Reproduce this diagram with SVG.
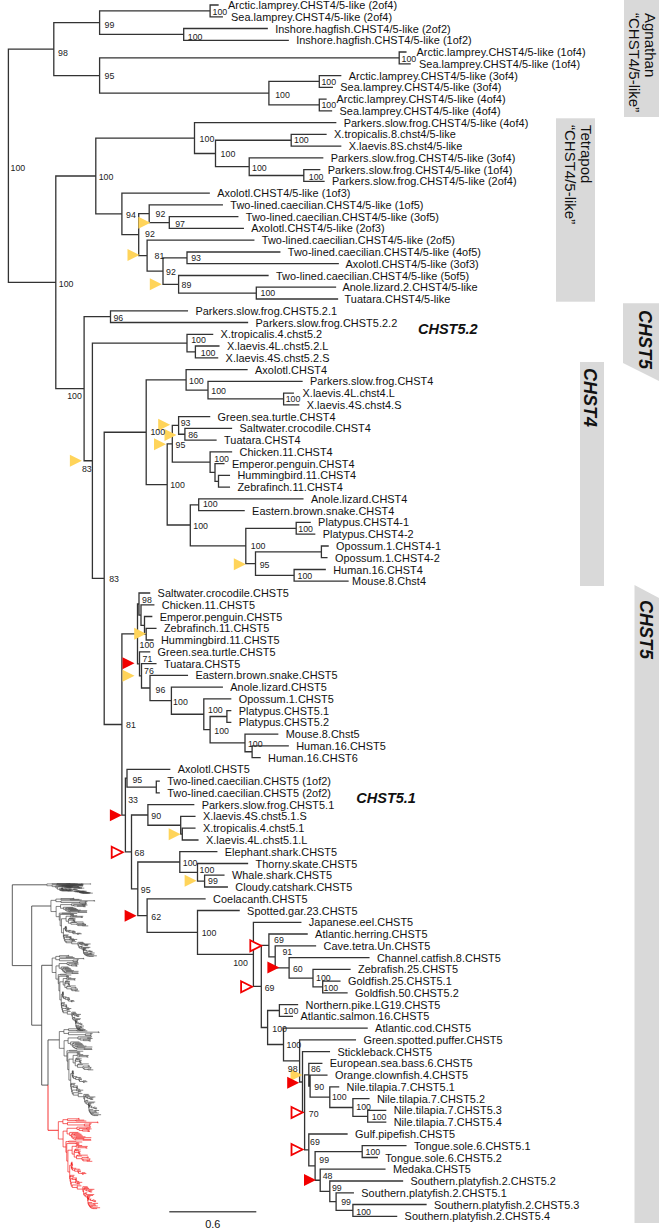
<svg xmlns="http://www.w3.org/2000/svg" xmlns:xlink="http://www.w3.org/1999/xlink" width="659" height="1229" viewBox="0 0 659 1229">
<style>
.tx{font-family:"Liberation Sans",Arial,sans-serif;font-size:10.9px;letter-spacing:0.05px;fill:#111}
.bs{font-family:"Liberation Sans",Arial,sans-serif;font-size:8.8px;fill:#222}
.cl{font-family:"Liberation Sans",Arial,sans-serif;font-size:14.5px;font-weight:bold;font-style:italic;fill:#111}
.bx{fill:#d9d9d9}
.bt{font-family:"Liberation Sans",Arial,sans-serif;font-size:15px;fill:#111}
.bi{font-family:"Liberation Sans",Arial,sans-serif;font-size:18px;font-weight:bold;font-style:italic;fill:#111}
.ty{fill:#FFD45A}
.tr{fill:#F20000}
.th{fill:#fff;stroke:#F20000;stroke-width:1.8}
</style>
<rect width="659" height="1229" fill="#fff"/>
<g id="boxes">
<rect class="bx" x="624" y="0" width="35" height="117"/>
<rect class="bx" x="556" y="118.3" width="39" height="183.4"/>
<polygon class="bx" points="623,303.3 659,303.3 659,381 623,363"/>
<rect class="bx" x="580" y="362" width="24" height="224"/>
<polygon class="bx" points="634.5,585 659,598 659,1223 634.5,1223"/>
<text class="bt" transform="translate(645,13) rotate(90)">Agnathan</text>
<text class="bt" transform="translate(629,13) rotate(90)">“CHST4/5-like”</text>
<text class="bt" transform="translate(581,125) rotate(90)">Tetrapod</text>
<text class="bt" transform="translate(565,125) rotate(90)">“CHST4/5-like”</text>
<text class="bi" transform="translate(639,310) rotate(90)">CHST5</text>
<text class="bi" transform="translate(584,368) rotate(90)">CHST4</text>
<text class="bi" transform="translate(640,600) rotate(90)">CHST5</text>
</g>
<g id="connectors" stroke="#333" stroke-width="1.3" fill="none" stroke-linecap="square">
<path id="branches" vector-effect="non-scaling-stroke" d="M8.4 49.1V282.35M8.4 49.1H53.8M8.4 282.35H55.8
M53.8 22.65V75.55M53.8 22.65H99.6M53.8 75.55H99.6
M99.6 10.9V34.4M99.6 10.9H210.1M99.6 34.4H183.7
M210.1 5V16.8M210.1 5H218M210.1 16.8H222.3
M183.7 28.5V40.3M183.7 28.5H267.2M183.7 40.3H288.2
M99.6 57.9V93.2M99.6 57.9H399.2M99.6 93.2H268.9
M399.2 52V63.8M399.2 52H405.9M399.2 63.8H410.1
M268.9 81.45V104.95M268.9 81.45H319.3M268.9 104.95H319.3
M319.3 75.6V87.3M319.3 75.6H340.7M319.3 87.3H332.3
M319.3 99.1V110.8M319.3 99.1H326M319.3 110.8H331.5
M55.8 176V388.7M55.8 176H95.8M55.8 388.7H84.1
M95.8 138.05V213.95M95.8 138.05H194.5M95.8 213.95H121.9
M194.5 122.6V153.5M194.5 122.6H335.7M194.5 153.5H215.5
M215.5 140.25V166.7M215.5 140.25H291.2M215.5 166.7H249.2
M291.2 134.4V146.1M291.2 134.4H326M291.2 146.1H340.7
M249.2 157.9V175.5M249.2 157.9H322.7M249.2 175.5H303.8
M303.8 169.6V181.4M303.8 169.6H319.7M303.8 181.4H324
M121.9 193.2V234.7M121.9 193.2H209.2M121.9 234.7H138.7
M138.7 213.7V255.65M138.7 213.7H149.2M138.7 255.65H147.1
M149.2 204.9V222.55M149.2 204.9H222.3M149.2 222.55H169.3
M169.3 216.7V228.4M169.3 216.7H237.8M169.3 228.4H243.3
M147.1 240.2V271.1M147.1 240.2H253.8M147.1 271.1H163
M163 257.85V284.3M163 257.85H187M163 284.3H178.6
M187 252V263.7M187 252H279.8M187 263.7H338.2
M178.6 275.5V293.1M178.6 275.5H268M178.6 293.1H256.3
M256.3 287.2V299M256.3 287.2H335.5M256.3 299H337.5
M84.1 316.65V460.75M84.1 316.65H110.5M84.1 460.75H92.4
M110.5 310.8V322.5M110.5 310.8H187.4M110.5 322.5H247.5
M92.4 343.1V578.4M92.4 343.1H187M92.4 578.4H104.2
M187 334.3V351.9M187 334.3H212.6M187 351.9H195.4
M195.4 346V357.8M195.4 346H218.9M195.4 357.8H217.6
M104.2 432.25V724.5M104.2 432.25H146.2M104.2 724.5H121.9
M146.2 379.85V484.65M146.2 379.85H186.1M146.2 484.65H167.2
M186.1 369.6V390.1M186.1 369.6H247M186.1 390.1H208
M208 381.3V398.95M208 381.3H302M208 398.95H283.6
M283.6 393.1V404.8M283.6 393.1H293.3M283.6 404.8H298.7
M167.2 443.8V525M167.2 443.8H172.3M167.2 525H190.3
M172.3 425.4V462.2M172.3 425.4H178.6M172.3 462.2H210.1
M178.6 416.6V434.25M178.6 416.6H209.6M178.6 434.25H184.9
M184.9 428.4V440.1M184.9 428.4H231.5M184.9 440.1H216
M210.1 451.9V472.45M210.1 451.9H231.5M210.1 472.45H215
M215 463.6V481.3M215 463.6H223.9M215 481.3H218.5
M218.5 475.4V487.2M218.5 475.4H229.4M218.5 487.2H229.4
M190.3 504.8V545.95M190.3 504.8H198.7M190.3 545.95H245.8
M198.7 498.9V510.7M198.7 498.9H302.9M198.7 510.7H244.1
M245.8 528.3V563.6M245.8 528.3H296.2M245.8 563.6H255.5
M296.2 522.4V534.2M296.2 522.4H310.1M296.2 534.2H314.7
M255.5 551.85V575.35M255.5 551.85H321.4M255.5 575.35H294.1
M321.4 546V557.7M321.4 546H328.1M321.4 557.7H326.9
M294.1 569.5V581.2M294.1 569.5H325.2M294.1 581.2H348
M121.9 633.9V815.05M121.9 633.9H137.5M121.9 815.05H125.4
M137.5 604V663.8M137.5 604H139M137.5 663.8H139.5
M139 593V615.05M139 593H149.6M139 615.05H141
M141 604.8V625.3M141 604.8H153.8M141 625.3H144.5
M144.5 616.5V634.15M144.5 616.5H151.7M144.5 634.15H146.2
M146.2 628.3V640M146.2 628.3H155.9M146.2 640H152.9
M139.5 651.8V675.8M139.5 651.8H149.6M139.5 675.8H141.5
M141.5 663.6V688M141.5 663.6H155.9M141.5 688H150
M150 675.3V700.7M150 675.3H187.4M150 700.7H171.4
M171.4 687.1V714.25M171.4 687.1H222.3M171.4 714.25H203.8
M203.8 698.8V729.7M203.8 698.8H230.7M203.8 729.7H210.1
M210.1 716.5V742.93M210.1 716.5H226.9M210.1 742.93H245
M226.9 710.6V722.4M226.9 710.6H230.7M226.9 722.4H230.7
M245 734.1V751.75M245 734.1H277.7M245 751.75H252.1
M252.1 745.9V757.6M252.1 745.9H288.2M252.1 757.6H260.1
M125.4 778.2V851.9M125.4 778.2H127M125.4 851.9H131.5
M127 769.4V787.05M127 769.4H169.7M127 787.05H156.3
M156.3 781.2V792.9M156.3 781.2H159.2M156.3 792.9H159.2
M131.5 815V888.8M131.5 815H147.9M131.5 888.8H137.8
M147.9 804.7V825.25M147.9 804.7H193.7M147.9 825.25H180.7
M180.7 816.4V834.1M180.7 816.4H194.9M180.7 834.1H182.3
M182.3 828.2V840M182.3 828.2H194.9M182.3 840H197.9
M137.8 862V915.6M137.8 862H179.8M137.8 915.6H147.1
M179.8 851.7V872.3M179.8 851.7H216.8M179.8 872.3H197.5
M197.5 863.5V881.1M197.5 863.5H247.5M197.5 881.1H204.6
M204.6 875.2V887M204.6 875.2H223.9M204.6 887H227.3
M147.1 898.8V932.45M147.1 898.8H205M147.1 932.45H197.5
M197.5 910.5V954.4M197.5 910.5H239.1M197.5 954.4H253.4
M253.4 922.3V986.45M253.4 922.3H300.8M253.4 986.45H261.3
M261.3 945.4V1027.5M261.3 945.4H268.9M261.3 1027.5H267.6
M268.9 934V956.8M268.9 934H307.1M268.9 956.8H275.2
M275.2 945.8V967.85M275.2 945.8H315.5M275.2 967.85H289.1
M289.1 957.6V978.1M289.1 957.6H368.9M289.1 978.1H313
M313 969.3V986.95M313 969.3H350M313 986.95H322.7
M322.7 981.1V992.8M322.7 981.1H339.9M322.7 992.8H347
M267.6 1010.5V1044.5M267.6 1010.5H279.4M267.6 1044.5H283.5
M279.4 1004.6V1016.4M279.4 1004.6H297.5M279.4 1016.4H292.4
M283.5 1028.1V1060.95M283.5 1028.1H367.1M283.5 1060.95H299.6
M299.6 1039.9V1082M299.6 1039.9H355.4M299.6 1082H302.5
M302.5 1051.6V1112.4M302.5 1051.6H329.4M302.5 1112.4H304.6
M304.6 1074.8V1149.95M304.6 1074.8H308.8M304.6 1149.95H308.8
M308.8 1063.4V1086.2M308.8 1063.4H321.8M308.8 1086.2H310.1
M310.1 1075.2V1097.2M310.1 1075.2H326.9M310.1 1097.2H329.8
M329.8 1086.9V1107.5M329.8 1086.9H338.6M329.8 1107.5H352.9
M352.9 1098.7V1116.3M352.9 1098.7H368.9M352.9 1116.3H367.7
M367.7 1110.4V1122.2M367.7 1110.4H385.7M367.7 1122.2H385.7
M308.8 1134V1165.9M308.8 1134H347M308.8 1165.9H315.1
M315.1 1151.6V1180.25M315.1 1151.6H362.2M315.1 1180.25H320.2
M362.2 1145.7V1157.5M362.2 1145.7H405.9M362.2 1157.5H377.3
M320.2 1169.2V1191.3M320.2 1169.2H384.9M320.2 1191.3H329.8
M329.8 1181V1201.6M329.8 1181H402.5M329.8 1201.6H336.1
M336.1 1192.8V1210.4M336.1 1192.8H353.3M336.1 1210.4H352.9
M352.9 1204.5V1216.3M352.9 1204.5H426M352.9 1216.3H396.6"/>
</g>
<g id="thumbnail" fill="none">
<path d="M12.3 884.8V965.6M12.3 884.8H46.9M12.3 965.6H31.7M31.7 906V1025.2M31.7 906H50.9M31.7 1025.2H41.7M41.7 965.3V1085.1M41.7 965.3H52.2M41.7 1085.1H48M48 1039.9V1085.1M48 1039.9H59.3" stroke="#333" stroke-width="0.8"/>
<path d="M48 1085.1V1130.3H58.3" stroke="#F20000" stroke-width="0.8"/>
<use xlink:href="#branches" href="#branches" transform="translate(46,883.5) scale(0.11,0.008)" stroke="#444" stroke-width="0.6"/>
<use xlink:href="#branches" href="#branches" transform="translate(50,898) scale(0.11,0.048)" stroke="#333" stroke-width="0.6"/>
<use xlink:href="#branches" href="#branches" transform="translate(51.5,955) scale(0.08,0.062)" stroke="#333" stroke-width="0.6"/>
<use xlink:href="#branches" href="#branches" transform="translate(58.5,1028) scale(0.1,0.072)" stroke="#333" stroke-width="0.6"/>
<use xlink:href="#branches" href="#branches" transform="translate(57.5,1118) scale(0.1,0.0745)" stroke="#F20000" stroke-width="0.6"/>
</g>
<g id="scalebar">
<line x1="169.3" y1="1211.7" x2="256.3" y2="1211.7" stroke="#555" stroke-width="1.5"/>
<text class="tx" x="212.8" y="1228" text-anchor="middle">0.6</text>
</g>
<g id="markers">
<polygon class="ty" points="138.4,216.8 150.4,222.8 138.4,228.8"/>
<polygon class="ty" points="127.5,249 139.5,255 127.5,261"/>
<polygon class="ty" points="149.8,278.2 161.8,284.2 149.8,290.2"/>
<polygon class="ty" points="69.9,454.8 81.9,460.8 69.9,466.8"/>
<polygon class="ty" points="158.2,418.7 170.2,424.7 158.2,430.7"/>
<polygon class="ty" points="164.5,429 176.5,435 164.5,441"/>
<polygon class="ty" points="154,438.2 166,444.2 154,450.2"/>
<polygon class="ty" points="233.8,558.2 245.8,564.2 233.8,570.2"/>
<polygon class="ty" points="134.2,627.7 146.2,633.7 134.2,639.7"/>
<polygon class="ty" points="122.5,669.8 134.5,675.8 122.5,681.8"/>
<polygon class="ty" points="168.7,828.2 180.7,834.2 168.7,840.2"/>
<polygon class="ty" points="184.6,874.8 196.6,880.8 184.6,886.8"/>
<polygon class="ty" points="290.5,1069 302.5,1075 290.5,1081"/>
<polygon class="tr" points="122.5,657.3 134.5,663.3 122.5,669.3"/>
<polygon class="tr" points="109.9,809.2 121.9,815.2 109.9,821.2"/>
<polygon class="tr" points="124.6,909.8 136.6,915.8 124.6,921.8"/>
<polygon class="tr" points="267.4,961.5 279.4,967.5 267.4,973.5"/>
<polygon class="tr" points="287.2,1076.8 299.2,1082.8 287.2,1088.8"/>
<polygon class="tr" points="304,1174 316,1180 304,1186"/>
<polygon class="th" points="111.7,846.8 122.7,852.3 111.7,857.8"/>
<polygon class="th" points="250.3,940.3 261.3,945.8 250.3,951.3"/>
<polygon class="th" points="241.1,981.2 252.1,986.7 241.1,992.2"/>
<polygon class="th" points="291.5,1107 302.5,1112.5 291.5,1118"/>
<polygon class="th" points="291.5,1144 302.5,1149.5 291.5,1155"/>
</g>
<g id="support">
<text class="bs" x="58" y="56.2">98</text>
<text class="bs" x="104.6" y="28.2">99</text>
<text class="bs" x="212.5" y="14.9">100</text>
<text class="bs" x="187.8" y="39.9">100</text>
<text class="bs" x="104.6" y="79.2">95</text>
<text class="bs" x="401.5" y="61.5">100</text>
<text class="bs" x="275.2" y="98.2">100</text>
<text class="bs" x="321.4" y="84.9">100</text>
<text class="bs" x="321.4" y="108.2">100</text>
<text class="bs" x="10.5" y="171.2">100</text>
<text class="bs" x="98.7" y="179.9">100</text>
<text class="bs" x="199.6" y="141.5">100</text>
<text class="bs" x="220.6" y="157.2">100</text>
<text class="bs" x="294" y="143.2">100</text>
<text class="bs" x="252" y="170.5">100</text>
<text class="bs" x="308.8" y="179.9">100</text>
<text class="bs" x="126" y="218.2">94</text>
<text class="bs" x="155.5" y="217.2">92</text>
<text class="bs" x="175.2" y="227.2">97</text>
<text class="bs" x="145" y="237.2">92</text>
<text class="bs" x="154.6" y="258.9">81</text>
<text class="bs" x="191.2" y="261.2">93</text>
<text class="bs" x="166" y="275.2">92</text>
<text class="bs" x="181.5" y="288.2">89</text>
<text class="bs" x="260.5" y="295.9">100</text>
<text class="bs" x="58.8" y="286.5">100</text>
<text class="bs" x="113.4" y="321.2">96</text>
<text class="bs" x="191.2" y="342.5">100</text>
<text class="bs" x="200.8" y="355.9">100</text>
<text class="bs" x="67.2" y="398.9">100</text>
<text class="bs" x="81.9" y="471.5">83</text>
<text class="bs" x="189" y="383.9">100</text>
<text class="bs" x="211.3" y="393.9">100</text>
<text class="bs" x="285.7" y="401.5">100</text>
<text class="bs" x="180.7" y="425.9">93</text>
<text class="bs" x="150.4" y="434.9">100</text>
<text class="bs" x="188.2" y="438.2">86</text>
<text class="bs" x="175.6" y="448.2">95</text>
<text class="bs" x="214.3" y="461.5">100</text>
<text class="bs" x="170.2" y="488.2">100</text>
<text class="bs" x="202.9" y="507.2">100</text>
<text class="bs" x="193.3" y="529.2">100</text>
<text class="bs" x="298.3" y="532.2">100</text>
<text class="bs" x="250.8" y="549.2">100</text>
<text class="bs" x="259.7" y="567.5">95</text>
<text class="bs" x="297.5" y="579.2">100</text>
<text class="bs" x="109.2" y="581.5">83</text>
<text class="bs" x="142" y="603.2">98</text>
<text class="bs" x="139.5" y="648.2">100</text>
<text class="bs" x="142.5" y="661.5">71</text>
<text class="bs" x="144" y="673.9">76</text>
<text class="bs" x="155.5" y="692.5">96</text>
<text class="bs" x="173.1" y="704.9">100</text>
<text class="bs" x="208" y="712.5">100</text>
<text class="bs" x="126" y="728.2">81</text>
<text class="bs" x="214.3" y="733.9">100</text>
<text class="bs" x="247.9" y="746.5">100</text>
<text class="bs" x="132.4" y="782.5">95</text>
<text class="bs" x="128.2" y="803.2">33</text>
<text class="bs" x="151.3" y="819.2">90</text>
<text class="bs" x="134.5" y="855.9">68</text>
<text class="bs" x="182.8" y="865.9">100</text>
<text class="bs" x="199.6" y="873.2">100</text>
<text class="bs" x="208" y="883.9">99</text>
<text class="bs" x="140.8" y="893.2">95</text>
<text class="bs" x="151.3" y="919.9">62</text>
<text class="bs" x="201.7" y="935.9">100</text>
<text class="bs" x="274" y="943.2">69</text>
<text class="bs" x="282.4" y="955.2">91</text>
<text class="bs" x="233.2" y="965.5">100</text>
<text class="bs" x="292.9" y="971.5">60</text>
<text class="bs" x="316" y="980.5">100</text>
<text class="bs" x="264.7" y="990.5">69</text>
<text class="bs" x="323.5" y="990.5">100</text>
<text class="bs" x="283.6" y="1013.9">100</text>
<text class="bs" x="272.3" y="1031.5">100</text>
<text class="bs" x="286.5" y="1048.2">100</text>
<text class="bs" x="287.8" y="1071.5">98</text>
<text class="bs" x="310.9" y="1071.5">86</text>
<text class="bs" x="314.3" y="1089.9">90</text>
<text class="bs" x="331.9" y="1099.9">100</text>
<text class="bs" x="356.3" y="1109.9">100</text>
<text class="bs" x="308.8" y="1116.5">70</text>
<text class="bs" x="371.8" y="1119.9">100</text>
<text class="bs" x="310.1" y="1144.9">69</text>
<text class="bs" x="365.5" y="1154.9">100</text>
<text class="bs" x="319.3" y="1163.2">99</text>
<text class="bs" x="322.7" y="1179.2">48</text>
<text class="bs" x="331.9" y="1190.5">99</text>
<text class="bs" x="341.2" y="1204.9">99</text>
<text class="bs" x="356.3" y="1214.9">100</text>
</g>
<g id="clade-labels">
<text class="cl" x="418" y="334">CHST5.2</text>
<text class="cl" x="356.3" y="803">CHST5.1</text>
</g>
<g id="agnathan-leaves">
<text id="t1" class="tx" x="228" y="9">Arctic.lamprey.CHST4/5-like (2of4)</text>
<text id="t2" class="tx" x="231" y="20.8">Sea.lamprey.CHST4/5-like (2of4)</text>
<text id="t3" class="tx" x="275.2" y="32.5">Inshore.hagfish.CHST4/5-like (2of2)</text>
<text id="t4" class="tx" x="296.2" y="44.3">Inshore.hagfish.CHST4/5-like (1of2)</text>
<text id="t5" class="tx" x="416.5" y="56">Arctic.lamprey.CHST4/5-like (1of4)</text>
<text id="t6" class="tx" x="419" y="67.8">Sea.lamprey.CHST4/5-like (1of4)</text>
<text id="t7" class="tx" x="348.7" y="79.6">Arctic.lamprey.CHST4/5-like (3of4)</text>
<text id="t8" class="tx" x="340.3" y="91.3">Sea.lamprey.CHST4/5-like (3of4)</text>
<text id="t9" class="tx" x="336.5" y="103.1">Arctic.lamprey.CHST4/5-like (4of4)</text>
<text id="t10" class="tx" x="339.5" y="114.8">Sea.lamprey.CHST4/5-like (4of4)</text>
</g>
<g id="tetrapod-like-leaves">
<text id="t11" class="tx" x="343.7" y="126.6">Parkers.slow.frog.CHST4/5-like (4of4)</text>
<text id="t12" class="tx" x="334" y="138.4">X.tropicalis.8.chst4/5-like</text>
<text id="t13" class="tx" x="348.7" y="150.1">X.laevis.8S.chst4/5-like</text>
<text id="t14" class="tx" x="330.7" y="161.9">Parkers.slow.frog.CHST4/5-like (3of4)</text>
<text id="t15" class="tx" x="327.7" y="173.6">Parkers.slow.frog.CHST4/5-like (1of4)</text>
<text id="t16" class="tx" x="332" y="185.4">Parkers.slow.frog.CHST4/5-like (2of4)</text>
<text id="t17" class="tx" x="217.2" y="197.2">Axolotl.CHST4/5-like (1of3)</text>
<text id="t18" class="tx" x="230.3" y="208.9">Two-lined.caecilian.CHST4/5-like (1of5)</text>
<text id="t19" class="tx" x="245.8" y="220.7">Two-lined.caecilian.CHST4/5-like (3of5)</text>
<text id="t20" class="tx" x="251.3" y="232.4">Axolotl.CHST4/5-like (2of3)</text>
<text id="t21" class="tx" x="261.8" y="244.2">Two-lined.caecilian.CHST4/5-like (2of5)</text>
<text id="t22" class="tx" x="287.8" y="256">Two-lined.caecilian.CHST4/5-like (4of5)</text>
<text id="t23" class="tx" x="345.4" y="267.7">Axolotl.CHST4/5-like (3of3)</text>
<text id="t24" class="tx" x="276" y="279.5">Two-lined.caecilian.CHST4/5-like (5of5)</text>
<text id="t25" class="tx" x="342.4" y="291.2">Anole.lizard.2.CHST4/5-like</text>
<text id="t26" class="tx" x="344.5" y="303">Tuatara.CHST4/5-like</text>
</g>
<g id="chst52-leaves">
<text id="t27" class="tx" x="195.4" y="314.8">Parkers.slow.frog.CHST5.2.1</text>
<text id="t28" class="tx" x="255.5" y="326.5">Parkers.slow.frog.CHST5.2.2</text>
<text id="t29" class="tx" x="220.6" y="338.3">X.tropicalis.4.chst5.2</text>
<text id="t30" class="tx" x="226.9" y="350">X.laevis.4L.chst5.2.L</text>
<text id="t31" class="tx" x="225.6" y="361.8">X.laevis.4S.chst5.2.S</text>
</g>
<g id="chst4-leaves">
<text id="t32" class="tx" x="255" y="373.6">Axolotl.CHST4</text>
<text id="t33" class="tx" x="310" y="385.3">Parkers.slow.frog.CHST4</text>
<text id="t34" class="tx" x="302.5" y="397.1">X.laevis.4L.chst4.L</text>
<text id="t35" class="tx" x="306.7" y="408.8">X.laevis.4S.chst4.S</text>
<text id="t36" class="tx" x="217.6" y="420.6">Green.sea.turtle.CHST4</text>
<text id="t37" class="tx" x="239.5" y="432.4">Saltwater.crocodile.CHST4</text>
<text id="t38" class="tx" x="224" y="444.1">Tuatara.CHST4</text>
<text id="t39" class="tx" x="239.5" y="455.9">Chicken.11.CHST4</text>
<text id="t40" class="tx" x="231.9" y="467.6">Emperor.penguin.CHST4</text>
<text id="t41" class="tx" x="237.4" y="479.4">Hummingbird.11.CHST4</text>
<text id="t42" class="tx" x="237.4" y="491.2">Zebrafinch.11.CHST4</text>
<text id="t43" class="tx" x="310.9" y="502.9">Anole.lizard.CHST4</text>
<text id="t44" class="tx" x="252.1" y="514.7">Eastern.brown.snake.CHST4</text>
<text id="t45" class="tx" x="318.1" y="526.4">Platypus.CHST4-1</text>
<text id="t46" class="tx" x="322.7" y="538.2">Platypus.CHST4-2</text>
<text id="t47" class="tx" x="336.1" y="550">Opossum.1.CHST4-1</text>
<text id="t48" class="tx" x="334.9" y="561.7">Opossum.1.CHST4-2</text>
<text id="t49" class="tx" x="333.2" y="573.5">Human.16.CHST4</text>
<text id="t50" class="tx" x="352.1" y="585.2">Mouse.8.Chst4</text>
</g>
<g id="chst5-leaves">
<text id="t51" class="tx" x="157.6" y="597">Saltwater.crocodile.CHST5</text>
<text id="t52" class="tx" x="161.8" y="608.8">Chicken.11.CHST5</text>
<text id="t53" class="tx" x="159.7" y="620.5">Emperor.penguin.CHST5</text>
<text id="t54" class="tx" x="163.9" y="632.3">Zebrafinch.11.CHST5</text>
<text id="t55" class="tx" x="160.9" y="644">Hummingbird.11.CHST5</text>
<text id="t56" class="tx" x="157.6" y="655.8">Green.sea.turtle.CHST5</text>
<text id="t57" class="tx" x="163.9" y="667.6">Tuatara.CHST5</text>
<text id="t58" class="tx" x="195.4" y="679.3">Eastern.brown.snake.CHST5</text>
<text id="t59" class="tx" x="230.3" y="691.1">Anole.lizard.CHST5</text>
<text id="t60" class="tx" x="238.7" y="702.8">Opossum.1.CHST5</text>
<text id="t61" class="tx" x="238.7" y="714.6">Platypus.CHST5.1</text>
<text id="t62" class="tx" x="238.7" y="726.4">Platypus.CHST5.2</text>
<text id="t63" class="tx" x="285.7" y="738.1">Mouse.8.Chst5</text>
<text id="t64" class="tx" x="296.2" y="749.9">Human.16.CHST5</text>
<text id="t65" class="tx" x="268.1" y="761.6">Human.16.CHST6</text>
<text id="t66" class="tx" x="177.7" y="773.4">Axolotl.CHST5</text>
<text id="t67" class="tx" x="167.2" y="785.2">Two-lined.caecilian.CHST5 (1of2)</text>
<text id="t68" class="tx" x="167.2" y="796.9">Two-lined.caecilian.CHST5 (2of2)</text>
<text id="t69" class="tx" x="201.7" y="808.7">Parkers.slow.frog.CHST5.1</text>
<text id="t70" class="tx" x="202.9" y="820.4">X.laevis.4S.chst5.1.S</text>
<text id="t71" class="tx" x="202.9" y="832.2">X.tropicalis.4.chst5.1</text>
<text id="t72" class="tx" x="205.9" y="844">X.laevis.4L.chst5.1.L</text>
<text id="t73" class="tx" x="224.8" y="855.7">Elephant.shark.CHST5</text>
<text id="t74" class="tx" x="255.5" y="867.5">Thorny.skate.CHST5</text>
<text id="t75" class="tx" x="231.9" y="879.2">Whale.shark.CHST5</text>
<text id="t76" class="tx" x="235.3" y="891">Cloudy.catshark.CHST5</text>
<text id="t77" class="tx" x="213" y="902.8">Coelacanth.CHST5</text>
<text id="t78" class="tx" x="247.1" y="914.5">Spotted.gar.23.CHST5</text>
<text id="t79" class="tx" x="308.8" y="926.3">Japanese.eel.CHST5</text>
<text id="t80" class="tx" x="315.1" y="938">Atlantic.herring.CHST5</text>
<text id="t81" class="tx" x="323.5" y="949.8">Cave.tetra.Un.CHST5</text>
<text id="t82" class="tx" x="376.9" y="961.6">Channel.catfish.8.CHST5</text>
<text id="t83" class="tx" x="358" y="973.3">Zebrafish.25.CHST5</text>
<text id="t84" class="tx" x="347.9" y="985.1">Goldfish.25.CHST5.1</text>
<text id="t85" class="tx" x="355" y="996.8">Goldfish.50.CHST5.2</text>
<text id="t86" class="tx" x="305.5" y="1008.6">Northern.pike.LG19.CHST5</text>
<text id="t87" class="tx" x="300.4" y="1020.4">Atlantic.salmon.16.CHST5</text>
<text id="t88" class="tx" x="375.1" y="1032.1">Atlantic.cod.CHST5</text>
<text id="t89" class="tx" x="363.4" y="1043.9">Green.spotted.puffer.CHST5</text>
<text id="t90" class="tx" x="337.4" y="1055.6">Stickleback.CHST5</text>
<text id="t91" class="tx" x="329.8" y="1067.4">European.sea.bass.6.CHST5</text>
<text id="t92" class="tx" x="334.9" y="1079.2">Orange.clownfish.4.CHST5</text>
<text id="t93" class="tx" x="346.6" y="1090.9">Nile.tilapia.7.CHST5.1</text>
<text id="t94" class="tx" x="376.9" y="1102.7">Nile.tilapia.7.CHST5.2</text>
<text id="t95" class="tx" x="393.7" y="1114.4">Nile.tilapia.7.CHST5.3</text>
<text id="t96" class="tx" x="393.7" y="1126.2">Nile.tilapia.7.CHST5.4</text>
<text id="t97" class="tx" x="355" y="1138">Gulf.pipefish.CHST5</text>
<text id="t98" class="tx" x="413.9" y="1149.7">Tongue.sole.6.CHST5.1</text>
<text id="t99" class="tx" x="385.3" y="1161.5">Tongue.sole.6.CHST5.2</text>
<text id="t100" class="tx" x="392.9" y="1173.2">Medaka.CHST5</text>
<text id="t101" class="tx" x="410.5" y="1185">Southern.platyfish.2.CHST5.2</text>
<text id="t102" class="tx" x="361.3" y="1196.8">Southern.platyfish.2.CHST5.1</text>
<text id="t103" class="tx" x="434" y="1208.5">Southern.platyfish.2.CHST5.3</text>
<text id="t104" class="tx" x="404.6" y="1220.3">Southern.platyfish.2.CHST5.4</text>
</g>
</svg>
